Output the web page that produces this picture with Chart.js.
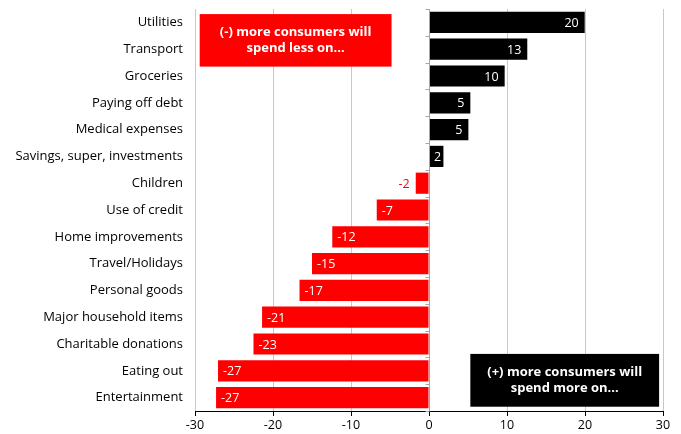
<!DOCTYPE html>
<html>
<head>
<meta charset="utf-8">
<script src="https://cdn.jsdelivr.net/npm/chart.js@4"></script>
<style>
  html, body { margin: 0; padding: 0; background: #fff; }
  #wrap { width: 681px; height: 434px; }
</style>
</head>
<body>
<div id="wrap"><canvas id="myChart"></canvas></div>
<script>
// categories, top to bottom
const categorias = ['Utilities', 'Transport', 'Groceries', 'Paying off debt', 'Medical expenses',
  'Savings, super, investments', 'Children', 'Use of credit', 'Home improvements', 'Travel/Holidays',
  'Personal goods', 'Major household items', 'Charitable donations', 'Eating out', 'Entertainment'];
// bar lengths
const valores = [19.96, 12.6, 9.7, 5.3, 5.05, 1.85, -1.7, -6.7, -12.4, -15.0, -16.6, -21.4, -22.5, -27.05, -27.3];
// printed labels
const etiquetas = ['20', '13', '10', '5', '5', '2', '-2', '-7', '-12', '-15', '-17', '-21', '-23', '-27', '-27'];
const ticksX = [-30, -20, -10, 0, 10, 20, 30];

const fuente = "'Open Sans', 'DejaVu Sans', sans-serif";

// labels inside/outside bars
const pluginEtiquetas = {
  id: 'etiquetas',
  afterDatasetsDraw(chart) {
    const ctx = chart.ctx;
    const meta = chart.getDatasetMeta(0);
    ctx.save();
    ctx.font = '12.5px ' + fuente;
    ctx.textBaseline = 'middle';
    meta.data.forEach((bar, i) => {
      const v = valores[i];
      const txt = etiquetas[i];
      const w = Math.abs(bar.x - bar.base);
      const tw = ctx.measureText(txt).width;
      const y = bar.y + 1;
      if (v >= 0) {
        ctx.fillStyle = '#fff';
        if (tw + 8 <= w) { ctx.textAlign = 'right'; ctx.fillText(txt, bar.x - 6, y); }
        else { ctx.textAlign = 'center'; ctx.fillText(txt, (bar.x + bar.base) / 2 + 1, y); }
      } else {
        if (tw + 8 <= w) { ctx.fillStyle = '#fff'; ctx.textAlign = 'left'; ctx.fillText(txt, bar.x + 5, y); }
        else { ctx.fillStyle = '#ff0000'; ctx.textAlign = 'right'; ctx.fillText(txt, bar.x - 6, y); }
      }
    });
    ctx.restore();
  }
};

// zero line with small ticks, plus the two note boxes
const pluginEjes = {
  id: 'ejes',
  afterDatasetsDraw(chart) {
    const ctx = chart.ctx;
    const x = chart.scales.x, y = chart.scales.y;
    const x0 = Math.round(x.getPixelForValue(0)) + 0.5;
    ctx.save();
    ctx.strokeStyle = '#a6a6a6';
    ctx.lineWidth = 1;
    ctx.beginPath();
    ctx.moveTo(x0, chart.chartArea.top);
    ctx.lineTo(x0, chart.chartArea.bottom);
    for (let i = 0; i <= categorias.length; i++) {
      const yy = Math.round(y.getPixelForValue(i - 0.5)) + 0.5;
      ctx.moveTo(x0 - 4, yy);
      ctx.lineTo(x0, yy);
    }
    ctx.stroke();

    function caja(x1, x2, y1, y2, color, lineas) {
      const l = x.getPixelForValue(x1), r = x.getPixelForValue(x2);
      const t = y.getPixelForValue(y1), b = y.getPixelForValue(y2);
      ctx.fillStyle = color;
      ctx.fillRect(l, t, r - l, b - t);
      ctx.fillStyle = '#fff';
      ctx.font = 'bold 13px ' + fuente;
      ctx.textAlign = 'center';
      ctx.textBaseline = 'middle';
      const cx = (l + r) / 2, cy = (t + b) / 2;
      ctx.fillText(lineas[0], cx, cy - 8);
      ctx.fillText(lineas[1], cx, cy + 8);
    }
    caja(-29.4, -4.8, -0.31, 1.65, '#ff0000', ['(-) more consumers will', 'spend less on...']);
    caja(5.3, 29.5, 12.37, 14.34, '#000000', ['(+) more consumers will', 'spend more on...']);
    ctx.restore();
  }
};

const ctx = document.getElementById('myChart').getContext('2d');
const myChart = new Chart(ctx, {
  type: 'bar',
  data: {
    labels: categorias,
    datasets: [{
      data: valores,
      backgroundColor: valores.map(v => v >= 0 ? '#000000' : '#ff0000'),
      borderWidth: 0,
      barPercentage: 0.79,
      categoryPercentage: 1
    }]
  },
  options: {
    indexAxis: 'y',
    responsive: true,
    maintainAspectRatio: false,
    animation: false,
    layout: { padding: { top: 9, right: 18, left: 0, bottom: 0 } },
    plugins: { legend: { display: false }, tooltip: { enabled: false } },
    scales: {
      x: {
        min: -30, max: 30,
        afterBuildTicks: axis => { axis.ticks = ticksX.map(v => ({ value: v })); },
        afterFit: axis => { axis.height = 23; axis.paddingLeft = 0; axis.paddingRight = 0; },
        grid: {
          color: c => c.tick && c.tick.value === 0 ? 'rgba(0,0,0,0)' : '#c8c8c8',
          tickColor: '#000',
          tickLength: 5
        },
        border: { display: true, color: '#000' },
        ticks: { color: '#000', padding: 2, font: { family: fuente, size: 12.5 } }
      },
      y: {
        afterFit: axis => { axis.width = 195; axis.paddingTop = 0; axis.paddingBottom = 0; },
        grid: { display: false, drawTicks: false },
        border: { display: false },
        ticks: { color: '#000', padding: 12, autoSkip: false, font: { family: fuente, size: 13 } }
      }
    }
  },
  plugins: [pluginEtiquetas, pluginEjes]
});
</script>
</body>
</html>
